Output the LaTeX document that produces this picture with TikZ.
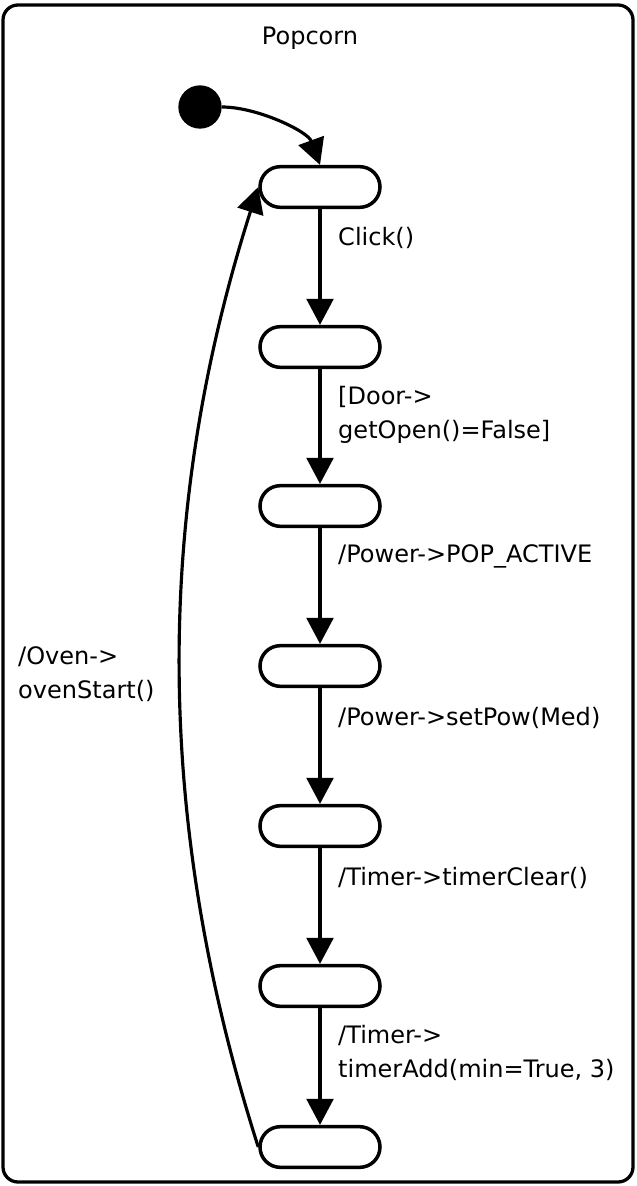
\documentclass[tikz,border=0pt]{standalone}
\usepackage{fontspec}
\setmainfont{DejaVu Sans}
\usetikzlibrary{arrows.meta,shapes.misc,positioning}

\begin{document}
\begin{tikzpicture}[x=0.03cm,y=-0.03cm,
  state/.style={draw,line width=3pt,rounded rectangle,minimum width=3.6cm,minimum height=1.22cm,inner sep=0pt},
  trans/.style={-{Triangle[length=0.78cm,width=0.8cm]},line width=2.7pt},
  lbl/.style={anchor=west,align=left,inner sep=0pt,font=\fontsize{20.5}{29}\selectfont}]
\useasboundingbox (0,0) rectangle (636,1186);
\draw[line width=2.8pt,rounded corners=0.45cm] (3,5) rectangle (633,1182);
\node[lbl,anchor=center] (popcorn) at (310,38) {Popcorn};
\node[circle,fill,minimum size=1.3cm,inner sep=0pt] (init) at (200,107) {};
% the chain of states
\foreach \i/\y in {1/187,2/347,3/506,4/666,5/826,6/986,7/1147}
  \node[state] (s\i) at (320,\y) {};
\draw[trans] (init) to[out=0,in=110,looseness=0.8] (s1.north);
\foreach \i [count=\j from 2] in {1,...,6}
  \draw[trans] (s\i) -- (s\j);
\draw[trans] (s7.west) .. controls (154,820) and (154,514) .. (s1.west);
% transition labels
\node[lbl] (click) at (338,238) {Click()};
\node[lbl] (door) at (338,415) {[Door->\\getOpen()=False]};
\node[lbl] (active) at (338,556) {/Power->POP\_ACTIVE};
\node[lbl] (setpow) at (338,718) {/Power->setPow(Med)};
\node[lbl] (clear) at (338,878) {/Timer->timerClear()};
\node[lbl] (add) at (338,1053) {/Timer->\\timerAdd(min=True, 3)};
\node[lbl] (oven) at (18,674) {/Oven->\\ovenStart()};
\end{tikzpicture}
\end{document}
